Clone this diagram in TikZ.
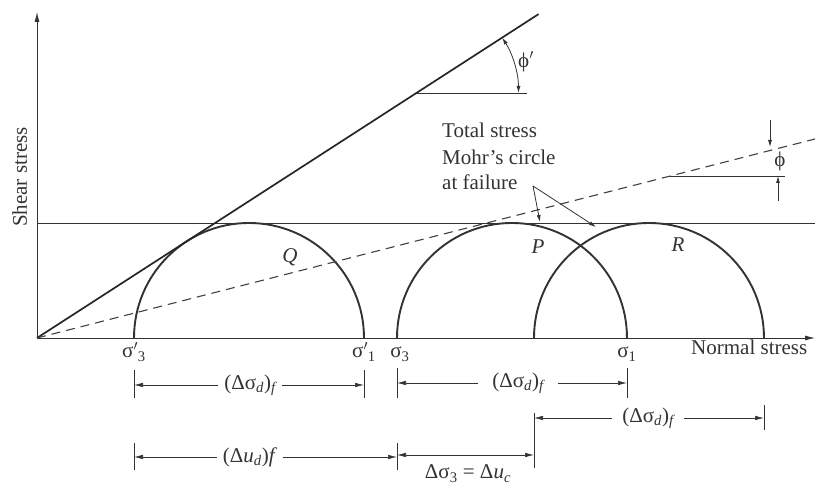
\documentclass[tikz,border=0pt]{standalone}
\usepackage{fontspec}
\setmainfont{Liberation Serif}
\usetikzlibrary{arrows.meta,calc}
\begin{document}
\begin{tikzpicture}[x=1pt,y=1pt,
  axis/.style={line width=0.8pt, black!80, -{Latex[length=10pt,width=5pt]}},
  mohr/.style={line width=1.9pt, black!80},
  env/.style={line width=1.7pt, black!85},
  tenv/.style={line width=1.1pt, black!75, dash pattern=on 9pt off 6pt},
  thinline/.style={line width=0.9pt, black!80},
  smallarr/.style={line width=0.8pt, black!80, -{Latex[length=7pt,width=4pt]}},
  smallboth/.style={line width=0.8pt, black!80, {Latex[length=7pt,width=4pt]}-{Latex[length=7pt,width=4pt]}},
  dimarr/.style={line width=0.6pt, black!80, -{Latex[length=9pt,width=4.5pt]}},
  dimboth/.style={line width=0.6pt, black!80, {Latex[length=9pt,width=4.5pt]}-{Latex[length=9pt,width=4.5pt]}},
  dimtick/.style={line width=0.8pt, black!80},
  txt/.style={font=\fontsize{21}{26}\selectfont, text=black!80, inner sep=1pt},
  dimlbl/.style={txt, inner xsep=6pt},
]
\useasboundingbox (0,0) rectangle (815,486);

% axes
\coordinate (O) at (37,148);
\coordinate (ytop) at (37,474);
\coordinate (xend) at (815,148);
\draw[axis] (O) -- (ytop);
\draw[axis] (O) -- (xend);
\coordinate (hl) at (37,263);
\coordinate (hr) at (815,263);
\draw[thinline] (hl) -- (hr);

% Mohr circles
\coordinate (Qa) at (134,148);
\coordinate (Pa) at (397,148);
\coordinate (Ra) at (534,148);
\draw[mohr] (Qa) arc[start angle=180,end angle=0,radius=115];
\draw[mohr] (Pa) arc[start angle=180,end angle=0,radius=115];
\draw[mohr] (Ra) arc[start angle=180,end angle=0,radius=115];

% envelopes
\coordinate (E) at ($(O)+(32.85:597)$);
\draw[env] (O) -- (E);
\coordinate (T) at (815,347);
\draw[tenv] (O) -- (T);

% phi' marker
\coordinate (C1) at (416.5,393);
\coordinate (C1r) at (527,393);
\draw[thinline] (C1) -- (C1r);
\coordinate (C1a) at ($(C1)+(32.85:102)$);
\draw[smallboth] (C1a) arc[start angle=32.85,end angle=0,radius=102];
\node[txt] (phip) at (526,424) {ϕ$'$};

% phi marker
\coordinate (C2) at (670,310);
\coordinate (C2r) at (785,310);
\draw[thinline] (C2) -- (C2r);
\coordinate (a1s) at (770,366);
\coordinate (a1e) at (770,339);
\coordinate (a2s) at (778,285);
\coordinate (a2e) at (778,310);
\draw[smallarr] (a1s) -- (a1e);
\draw[smallarr] (a2s) -- (a2e);
\node[txt] (phi) at (780,325) {ϕ};

% total stress text
\node[txt, anchor=base west] (t1) at (441,348) {Total stress};
\node[txt, anchor=base west] (t2) at (441,321) {Mohr's circle};
\node[txt, anchor=base west] (t3) at (441,296) {at failure};
\coordinate (tp) at (533,300);
\coordinate (Ptip) at (540,264);
\coordinate (Rtip) at (596,259);
\draw[smallarr] (tp) -- (Ptip);
\draw[smallarr] (tp) -- (Rtip);

% circle labels
\node[txt, font=\fontsize{21}{26}\selectfont\itshape] (Q) at (290,229) {Q};
\node[txt, font=\fontsize{21}{26}\selectfont\itshape] (P) at (538,239) {P};
\node[txt, font=\fontsize{21}{26}\selectfont\itshape] (R) at (678,241) {R};

% axis labels
\node[txt, rotate=90, anchor=base] (ylab) at (27,309) {Shear stress};
\node[txt, anchor=base west] (xlab) at (690,131) {Normal stress};

% sigma labels
\node[txt, anchor=base] (s3p) at (134,128) {σ$'$\textsubscript{3}};
\node[txt, anchor=base] (s1p) at (364,128) {σ$'$\textsubscript{1}};
\node[txt, anchor=base] (s3) at (400,128) {σ\textsubscript{3}};
\node[txt, anchor=base] (s1) at (627,128) {σ\textsubscript{1}};

% dimension row 1 (Q)
\coordinate (q1) at (134,101); \coordinate (q2) at (364,101);
\draw[dimtick] (134,88) -- (134,116);
\draw[dimtick] (364,88) -- (364,116);
\node[dimlbl] (dq) at (250,101) {(Δσ\textsubscript{\itshape d})\textsubscript{\itshape f}};
\draw[dimarr] (dq.west) -- (q1);
\draw[dimarr] (dq.east) -- (q2);

% dimension row 1 (P)
\coordinate (p1) at (397,103); \coordinate (p2) at (627,103);
\draw[dimtick] (397,88) -- (397,118);
\draw[dimtick] (627,88) -- (627,118);
\node[dimlbl, inner xsep=14pt] (dp) at (518,103) {(Δσ\textsubscript{\itshape d})\textsubscript{\itshape f}};
\draw[dimarr] (dp.west) -- (p1);
\draw[dimarr] (dp.east) -- (p2);

% dimension row 2 (R)
\coordinate (r1) at (534,68); \coordinate (r2) at (764,68);
\draw[dimtick] (534,18) -- (534,73);
\draw[dimtick] (764,56) -- (764,81);
\node[dimlbl, inner xsep=10pt] (dr) at (648,68) {(Δσ\textsubscript{\itshape d})\textsubscript{\itshape f}};
\draw[dimarr] (dr.west) -- (r1);
\draw[dimarr] (dr.east) -- (r2);

% dimension row 3
\coordinate (u1) at (134,29); \coordinate (u2) at (397,29);
\draw[dimtick] (134,16) -- (134,43);
\draw[dimtick] (397,16) -- (397,43);
\node[dimlbl] (du) at (250,29) {(Δ\textit{u}\textsubscript{\itshape d})\textit{f}};
\draw[dimarr] (du.west) -- (u1);
\draw[dimarr] (du.east) -- (u2);
\coordinate (c1) at (397,31); \coordinate (c2) at (534,31);
\draw[dimboth] (c1) -- (c2);
\node[txt, anchor=base] (dd) at (468,7) {Δσ\textsubscript{3} = Δ\textit{u}\textsubscript{\itshape c}};
\end{tikzpicture}
\end{document}
